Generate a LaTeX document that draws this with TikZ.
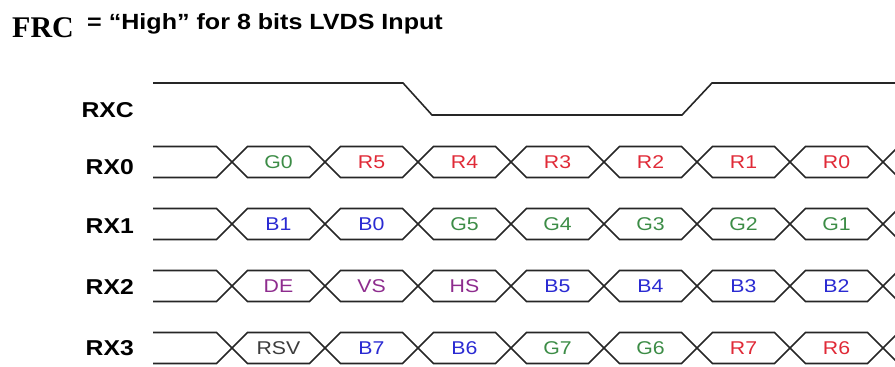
\documentclass[tikz,border=0pt]{standalone}
\usepackage{fontspec}
\setmainfont{Liberation Sans}
\newfontfamily\titleserif{Liberation Serif}
\usetikzlibrary{positioning}
\definecolor{BitGreen}{HTML}{3C8C46}
\definecolor{BitRed}{HTML}{E02A37}
\definecolor{BitBlue}{HTML}{2A2AD2}
\definecolor{BitPurple}{HTML}{8E2C8E}
\definecolor{BitGray}{HTML}{3C3C3C}

\begin{document}
\begin{tikzpicture}[
    x=1pt, y=-1pt,
    wave/.style={line width=1.6pt, draw=black!85},
    bitlabel/.style={font=\fontsize{18.5}{18.5}\selectfont, xscale=1.15, inner sep=0pt},
    siglabel/.style={font=\bfseries\fontsize{21.5}{21.5}\selectfont, xscale=1.15, inner sep=0pt, anchor=east}
]
    \useasboundingbox (0,0) rectangle (895,367);
    \clip (0,0) rectangle (895,367);

    % === GEOMETRY ===
    \def\xstart{153}  % left end of all waves
    \def\xfirst{232}  % first crossing
    \def\pitch{93}    % one bit period
    \def\hw{15.5}     % half width of a crossing
    \def\hh{15.5}     % half height of a data lane

    % === TITLE ===
    \node[anchor=base west, inner sep=0pt, font=\titleserif\bfseries\fontsize{30}{30}\selectfont, xscale=1.0] (frc) at (12,37) {FRC};
    \node[anchor=base west, inner sep=0pt, font=\bfseries\fontsize{22}{22}\selectfont, xscale=1.14] (note) at (87,29) {= “High” for 8 bits LVDS Input};

    % === CLOCK ===
    \node[siglabel] (RXC) at (134,110) {RXC};
    \draw[wave] (\xstart,83) -- (403,83) -- (432,115) -- (682,115) -- (712,83) -- (895,83);

    % === DATA LANES ===
    \foreach \lane/\yc/\ly/\bits in {
        RX0/162/167/{G0/BitGreen,R5/BitRed,R4/BitRed,R3/BitRed,R2/BitRed,R1/BitRed,R0/BitRed},
        RX1/224/226/{B1/BitBlue,B0/BitBlue,G5/BitGreen,G4/BitGreen,G3/BitGreen,G2/BitGreen,G1/BitGreen},
        RX2/286/287/{DE/BitPurple,VS/BitPurple,HS/BitPurple,B5/BitBlue,B4/BitBlue,B3/BitBlue,B2/BitBlue},
        RX3/348/348/{RSV/BitGray,B7/BitBlue,B6/BitBlue,G7/BitGreen,G6/BitGreen,R7/BitRed,R6/BitRed}}{
        \node[siglabel] (\lane) at (134,\ly) {\lane};
        % idle part before the first crossing
        \draw[wave] (\xstart,\yc-\hh) -- (\xfirst-\hw,\yc-\hh) -- (\xfirst,\yc) -- (\xfirst-\hw,\yc+\hh) -- (\xstart,\yc+\hh);
        \foreach \bit/\col [count=\k from 0] in \bits {
            \pgfmathsetmacro{\xa}{\xfirst+\k*\pitch}
            \pgfmathsetmacro{\xb}{\xa+\pitch}
            \draw[wave] (\xa,\yc) -- (\xa+\hw,\yc-\hh) -- (\xb-\hw,\yc-\hh) -- (\xb,\yc) -- (\xb-\hw,\yc+\hh) -- (\xa+\hw,\yc+\hh) -- cycle;
            \node[bitlabel, text=\col] (\lane-\bit) at ({(\xa+\xb)/2},\yc) {\bit};
        }
        % next word starts after the last crossing
        \draw[wave] (883,\yc) -- (883+\hw,\yc-\hh) -- (910,\yc-\hh);
        \draw[wave] (883,\yc) -- (883+\hw,\yc+\hh) -- (910,\yc+\hh);
    }
\end{tikzpicture}
\end{document}
